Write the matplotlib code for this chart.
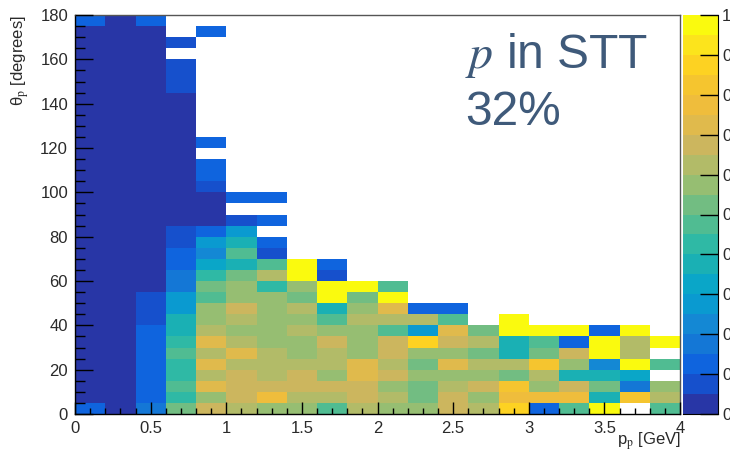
import numpy as np
import matplotlib

matplotlib.use('Agg')
import matplotlib.pyplot as plt
from matplotlib.colors import ListedColormap, BoundaryNorm

plt.rcParams['font.family'] = ['Liberation Sans', 'DejaVu Sans']
plt.rcParams['mathtext.fontset'] = 'stix'

N = np.nan

# palette steps of the z axis, bottom to top
palette = ['#2836a6', '#1650cc', '#0f64de', '#1477d6', '#1488d4', '#0a9ad0', '#0aa6c8',
           '#1ab0b4', '#2fb9a5', '#50bc92', '#72bd82', '#96be72', '#b2bb68', '#ccb65e',
           '#e0ba4c', '#efbd3c', '#f5c52f', '#fdd222', '#fce41c', '#fafa0e']

# efficiency per bin, as palette step (step 10 = 0.50-0.55), first row is theta 0-5 deg
eff_steps = [
    [2, 0, 3, 10, 13, 12, 11, 11, 9, 12, 11, 11, 13, 12, 17, 2, 9, 19, N, 9],
    [0, 0, 2, 8, 11, 13, 15, 12, 12, 13, 12, 10, 13, 11, 15, 15, 15, 7, 16, 12],
    [0, 0, 2, 9, 14, 13, 13, 13, 13, 13, 11, 10, 12, 13, 16, 11, 13, 10, 3, 11],
    [0, 0, 2, 8, 12, 13, 12, 13, 11, 14, 13, 11, 11, 11, 10, 12, 7, 7, 6, N],
    [0, 0, 2, 8, 14, 12, 12, 12, 12, 14, 12, 10, 14, 12, 12, 16, 11, 4, 19, 9],
    [0, 0, 2, 9, 12, 14, 12, 11, 12, 11, 13, 11, 11, 10, 7, 10, 13, 19, 12, N],
    [0, 0, 2, 8, 14, 12, 11, 11, 13, 11, 13, 17, 13, 12, 7, 9, 2, 19, 12, 19],
    [0, 0, 2, 7, 12, 11, 11, 12, 11, 11, 9, 5, 14, 10, 19, 19, 19, 2, 19, N],
    [0, 0, 1, 7, 11, 12, 11, 11, 9, 12, 12, 12, 9, N, 19, N, N, N, N, N],
    [0, 0, 1, 5, 11, 13, 11, 12, 7, 11, 14, 2, 2, N, N, N, N, N, N, N],
    [0, 0, 1, 5, 9, 11, 11, 10, 19, 10, 19, N, N, N, N, N, N, N, N, N],
    [0, 0, 0, 3, 10, 11, 8, 11, 19, 19, 9, N, N, N, N, N, N, N, N, N],
    [0, 0, 0, 3, 8, 10, 12, 19, 1, N, N, N, N, N, N, N, N, N, N, N],
    [0, 0, 0, 2, 6, 7, 9, 19, 2, N, N, N, N, N, N, N, N, N, N, N],
    [0, 0, 0, 2, 4, 9, 1, N, N, N, N, N, N, N, N, N, N, N, N, N],
    [0, 0, 0, 1, 5, 7, 2, N, N, N, N, N, N, N, N, N, N, N, N, N],
    [0, 0, 0, 1, 2, 5, N, N, N, N, N, N, N, N, N, N, N, N, N, N],
    [0, 0, 0, 0, 0, 1, 2, N, N, N, N, N, N, N, N, N, N, N, N, N],
    [0, 0, 0, 0, 0, N, N, N, N, N, N, N, N, N, N, N, N, N, N, N],
    [0, 0, 0, 0, 0, 2, 2, N, N, N, N, N, N, N, N, N, N, N, N, N],
    [0, 0, 0, 0, 1, N, N, N, N, N, N, N, N, N, N, N, N, N, N, N],
    [0, 0, 0, 0, 2, N, N, N, N, N, N, N, N, N, N, N, N, N, N, N],
    [0, 0, 0, 0, 2, N, N, N, N, N, N, N, N, N, N, N, N, N, N, N],
    [0, 0, 0, 0, N, N, N, N, N, N, N, N, N, N, N, N, N, N, N, N],
    [0, 0, 0, 0, 2, N, N, N, N, N, N, N, N, N, N, N, N, N, N, N],
    [0, 0, 0, 0, N, N, N, N, N, N, N, N, N, N, N, N, N, N, N, N],
    [0, 0, 0, 0, N, N, N, N, N, N, N, N, N, N, N, N, N, N, N, N],
    [0, 0, 0, 0, N, N, N, N, N, N, N, N, N, N, N, N, N, N, N, N],
    [0, 0, 0, 0, N, N, N, N, N, N, N, N, N, N, N, N, N, N, N, N],
    [0, 0, 0, 1, N, N, N, N, N, N, N, N, N, N, N, N, N, N, N, N],
    [0, 0, 0, 1, N, N, N, N, N, N, N, N, N, N, N, N, N, N, N, N],
    [0, 0, 0, 1, N, N, N, N, N, N, N, N, N, N, N, N, N, N, N, N],
    [0, 0, 0, N, N, N, N, N, N, N, N, N, N, N, N, N, N, N, N, N],
    [0, 0, 0, 1, N, N, N, N, N, N, N, N, N, N, N, N, N, N, N, N],
    [0, 0, 0, N, 2, N, N, N, N, N, N, N, N, N, N, N, N, N, N, N],
    [2, 0, 2, N, N, N, N, N, N, N, N, N, N, N, N, N, N, N, N, N],
]

x_ticks = [0, 0.5, 1, 1.5, 2, 2.5, 3, 3.5, 4]
x_labels = ['0', '0.5', '1', '1.5', '2', '2.5', '3', '3.5', '4']
y_ticks = [0, 20, 40, 60, 80, 100, 120, 140, 160, 180]
z_ticks = [0, 0.1, 0.2, 0.3, 0.4, 0.5, 0.6, 0.7, 0.8, 0.9, 1]
# the picture edge cuts the z labels down to their first character
z_labels = ['0', '0', '0', '0', '0', '0', '0', '0', '0', '0', '1']

W, H = 730, 454
AXIS_GREY = '#555555'
TEXT_COLOR = '#2a2a2a'
NOTE_COLOR = '#3f5a7a'


def px_axes(fig, left, top, right, bottom):
    return fig.add_axes([left / W, 1 - bottom / H, (right - left) / W, (bottom - top) / H])


def main():
    fig = plt.figure(figsize=(W / 100, H / 100), dpi=100)
    ax = px_axes(fig, 75, 15, 680, 414)

    x_edges = np.linspace(0, 4, 21)
    y_edges = np.linspace(0, 180, 37)
    cmap = ListedColormap(palette)
    norm = BoundaryNorm(np.arange(21), cmap.N)
    ax.pcolormesh(x_edges, y_edges, np.array(eff_steps), cmap=cmap, norm=norm)

    ax.set_xlim(0, 4)
    ax.set_ylim(0, 180)
    ax.set_xticks(x_ticks)
    ax.set_xticklabels(x_labels)
    ax.set_yticks(y_ticks)
    ax.set_xticks(np.arange(0, 4.01, 0.1), minor=True)
    ax.set_yticks(np.arange(0, 180.1, 5), minor=True)
    ax.tick_params(axis='x', which='major', direction='in', length=9, width=1, labelsize=12,
                   pad=5, labelcolor=TEXT_COLOR)
    ax.tick_params(axis='x', which='minor', direction='in', length=4.5, width=1)
    ax.tick_params(axis='y', which='major', direction='in', length=13, width=1, labelsize=12,
                   pad=5, labelcolor=TEXT_COLOR)
    ax.tick_params(axis='y', which='minor', direction='in', length=7, width=1)
    for side in ['top', 'right']:
        ax.spines[side].set_color(AXIS_GREY)
    for spine in ax.spines.values():
        spine.set_linewidth(1)
    ax.set_axisbelow(False)

    fig.text(31 / W, 1 - 15 / H, 'θ$_{\\mathrm{p}}$ [degrees]', rotation=90, ha='right', va='top',
             fontsize=12, color=TEXT_COLOR)
    fig.text(681 / W, 1 - 445 / H, 'p$_{\\mathrm{p}}$ [GeV]', ha='right', va='baseline',
             fontsize=12, color=TEXT_COLOR)

    fig.text(465 / W, 1 - 68 / H, r'$p$ in STT', ha='left', va='baseline', fontsize=34.5, color=NOTE_COLOR)
    fig.text(465 / W, 1 - 125 / H, '32%', ha='left', va='baseline', fontsize=34.5, color=NOTE_COLOR)

    # z scale
    cax = px_axes(fig, 683, 15, 718, 414)
    z_edges = np.linspace(0, 1, 21)
    cax.pcolormesh([0, 1], z_edges, np.arange(20).reshape(-1, 1), cmap=cmap, norm=norm)
    cax.set_xticks([])
    cax.set_ylim(0, 1)
    cax.yaxis.tick_right()
    cax.set_yticks(z_ticks)
    cax.set_yticklabels(z_labels)
    cax.tick_params(axis='y', direction='in', length=13, width=1, labelsize=12, pad=3, labelcolor=TEXT_COLOR)
    for side in ['top', 'left']:
        cax.spines[side].set_visible(False)

    fig.savefig('out.png', dpi=100)
    plt.close(fig)


if __name__ == "__main__":
    main()
